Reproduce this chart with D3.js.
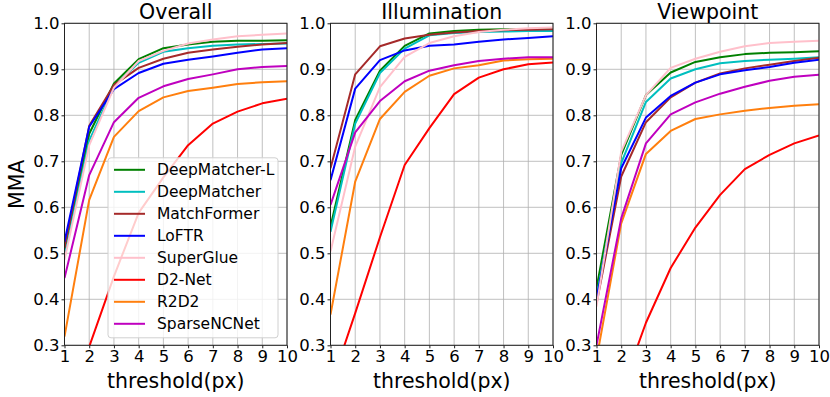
<!DOCTYPE html>
<html>
<head>
<meta charset="utf-8">
<script src="https://cdn.jsdelivr.net/npm/d3@7"></script>
<style>
  body { margin: 0; background: #fff; }
  text { font-family: "DejaVu Sans", sans-serif; fill: #000; }
</style>
</head>
<body>
<div id="chart"></div>
<script>
// thresholds on the x axis
const thresholds = [1, 2, 3, 4, 5, 6, 7, 8, 9, 10];
const yTicks = [0.3, 0.4, 0.5, 0.6, 0.7, 0.8, 0.9, 1.0];

const methods = ["DeepMatcher-L", "DeepMatcher", "MatchFormer", "LoFTR",
                 "SuperGlue", "D2-Net", "R2D2", "SparseNCNet"];
const colors = ["#008000", "#00bfbf", "#a52a2a", "#0000ff",
                "#ffc0cb", "#ff0000", "#ff7f0e", "#bf00bf"];

const panelTitles = ["Overall", "Illumination", "Viewpoint"];

// MMA per method (rows in the order of `methods`)
const overallMMA = [
  [0.503, 0.760, 0.869, 0.922, 0.946, 0.954, 0.960, 0.962, 0.962, 0.963],
  [0.493, 0.745, 0.863, 0.914, 0.938, 0.946, 0.951, 0.954, 0.955, 0.956],
  [0.512, 0.777, 0.866, 0.903, 0.923, 0.936, 0.943, 0.949, 0.954, 0.957],
  [0.525, 0.775, 0.857, 0.892, 0.912, 0.921, 0.928, 0.936, 0.943, 0.946],
  [0.486, 0.735, 0.860, 0.918, 0.940, 0.956, 0.965, 0.972, 0.975, 0.978],
  [0.100, 0.297, 0.450, 0.588, 0.665, 0.735, 0.782, 0.808, 0.826, 0.836],
  [0.319, 0.616, 0.753, 0.809, 0.839, 0.853, 0.860, 0.868, 0.872, 0.874],
  [0.446, 0.670, 0.785, 0.838, 0.863, 0.879, 0.889, 0.900, 0.905, 0.907]
];
const illuminationMMA = [
  [0.558, 0.790, 0.897, 0.951, 0.978, 0.983, 0.986, 0.987, 0.987, 0.987],
  [0.547, 0.782, 0.892, 0.945, 0.974, 0.979, 0.981, 0.982, 0.983, 0.983],
  [0.685, 0.889, 0.950, 0.967, 0.975, 0.980, 0.983, 0.985, 0.986, 0.987],
  [0.659, 0.858, 0.920, 0.941, 0.951, 0.954, 0.960, 0.965, 0.968, 0.972],
  [0.504, 0.732, 0.861, 0.927, 0.957, 0.972, 0.981, 0.986, 0.989, 0.991],
  [0.210, 0.370, 0.535, 0.692, 0.772, 0.846, 0.882, 0.900, 0.911, 0.915],
  [0.367, 0.656, 0.792, 0.851, 0.886, 0.902, 0.909, 0.919, 0.922, 0.923],
  [0.605, 0.763, 0.831, 0.874, 0.897, 0.909, 0.918, 0.923, 0.926, 0.926]
];
const viewpointMMA = [
  [0.424, 0.714, 0.844, 0.893, 0.916, 0.926, 0.933, 0.936, 0.937, 0.939],
  [0.405, 0.696, 0.829, 0.880, 0.900, 0.913, 0.918, 0.921, 0.923, 0.926],
  [0.390, 0.667, 0.785, 0.839, 0.871, 0.891, 0.902, 0.910, 0.918, 0.925],
  [0.400, 0.685, 0.795, 0.842, 0.871, 0.889, 0.898, 0.905, 0.914, 0.921],
  [0.384, 0.721, 0.844, 0.903, 0.923, 0.938, 0.950, 0.957, 0.960, 0.962],
  [0.050, 0.200, 0.349, 0.468, 0.556, 0.627, 0.683, 0.714, 0.739, 0.756],
  [0.270, 0.565, 0.716, 0.766, 0.792, 0.802, 0.810, 0.816, 0.821, 0.824],
  [0.300, 0.576, 0.739, 0.802, 0.828, 0.847, 0.862, 0.875, 0.884, 0.888]
];
const panelData = [overallMMA, illuminationMMA, viewpointMMA];

// layout
const W = 830, H = 397;
const panelLeft = [64.5, 330.5, 596.5];
const panelW = 222.5, plotTop = 23.3, panelH = 322;

const svg = d3.select("#chart").append("svg")
  .attr("width", W).attr("height", H);

const x = d3.scaleLinear().domain([1, 10]).range([0, panelW]);
const y = d3.scaleLinear().domain([0.3, 1.0]).range([panelH, 0]);

panelTitles.forEach(function(title, p) {
  const g = svg.append("g")
    .attr("transform", `translate(${panelLeft[p]},${plotTop})`);

  g.append("clipPath").attr("id", "clip" + p)
    .append("rect").attr("width", panelW).attr("height", panelH);

  // grid
  g.append("g").selectAll("line").data(thresholds).join("line")
    .attr("x1", d => x(d)).attr("x2", d => x(d))
    .attr("y1", 0).attr("y2", panelH)
    .attr("stroke", "#b0b0b0").attr("stroke-width", 0.8);
  g.append("g").selectAll("line").data(yTicks).join("line")
    .attr("x1", 0).attr("x2", panelW)
    .attr("y1", d => y(d)).attr("y2", d => y(d))
    .attr("stroke", "#b0b0b0").attr("stroke-width", 0.8);

  // axes
  const xAxis = g.append("g")
    .attr("transform", `translate(0,${panelH})`)
    .call(d3.axisBottom(x).tickValues(thresholds).tickFormat(d3.format("d"))
      .tickSize(3).tickPadding(2));
  const yAxis = g.append("g")
    .call(d3.axisLeft(y).tickValues(yTicks).tickFormat(d3.format(".1f"))
      .tickSize(3).tickPadding(2));
  [xAxis, yAxis].forEach(function(a) {
    a.select(".domain").remove();
    a.selectAll("line").attr("stroke", "#222");
    a.selectAll("text").style("font-size", "16.5px")
      .style("font-family", "DejaVu Sans, sans-serif").attr("fill", "#000");
  });

  // lines
  const line = d3.line()
    .x((d, i) => x(thresholds[i]))
    .y(d => y(d));
  g.append("g").attr("clip-path", `url(#clip${p})`)
    .selectAll("path").data(panelData[p]).join("path")
    .attr("fill", "none")
    .attr("stroke", (d, i) => colors[i])
    .attr("stroke-width", 2)
    .attr("stroke-linejoin", "round")
    .attr("d", line);

  // frame
  g.append("rect").attr("width", panelW).attr("height", panelH)
    .attr("fill", "none").attr("stroke", "#222").attr("stroke-width", 1);

  // title
  g.append("text").attr("x", panelW / 2).attr("y", -4.5)
    .attr("text-anchor", "middle").style("font-size", "20.5px").text(title);

  // x label
  g.append("text").attr("x", panelW / 2).attr("y", panelH + 43)
    .attr("text-anchor", "middle").style("font-size", "20.5px").text("threshold(px)");

  if (p === 0) {
    g.append("text")
      .attr("transform", `translate(-41,${panelH / 2}) rotate(-90)`)
      .attr("text-anchor", "middle").style("font-size", "20.5px").text("MMA");

    // legend
    const lg = g.append("g").attr("transform", "translate(43.5,134.5)");
    lg.append("rect").attr("width", 170).attr("height", 180)
      .attr("rx", 3).attr("fill", "#fff").attr("fill-opacity", 0.8)
      .attr("stroke", "#d0d0d0");
    const item = lg.selectAll("g.item").data(methods).join("g")
      .attr("class", "item")
      .attr("transform", (d, i) => `translate(0,${12 + i * 22})`);
    item.append("line").attr("x1", 6).attr("x2", 37)
      .attr("stroke", (d, i) => colors[i]).attr("stroke-width", 2);
    item.append("text").attr("x", 49).attr("y", 5.5)
      .style("font-size", "15.5px").text(d => d);
  }
});
</script>
</body>
</html>
